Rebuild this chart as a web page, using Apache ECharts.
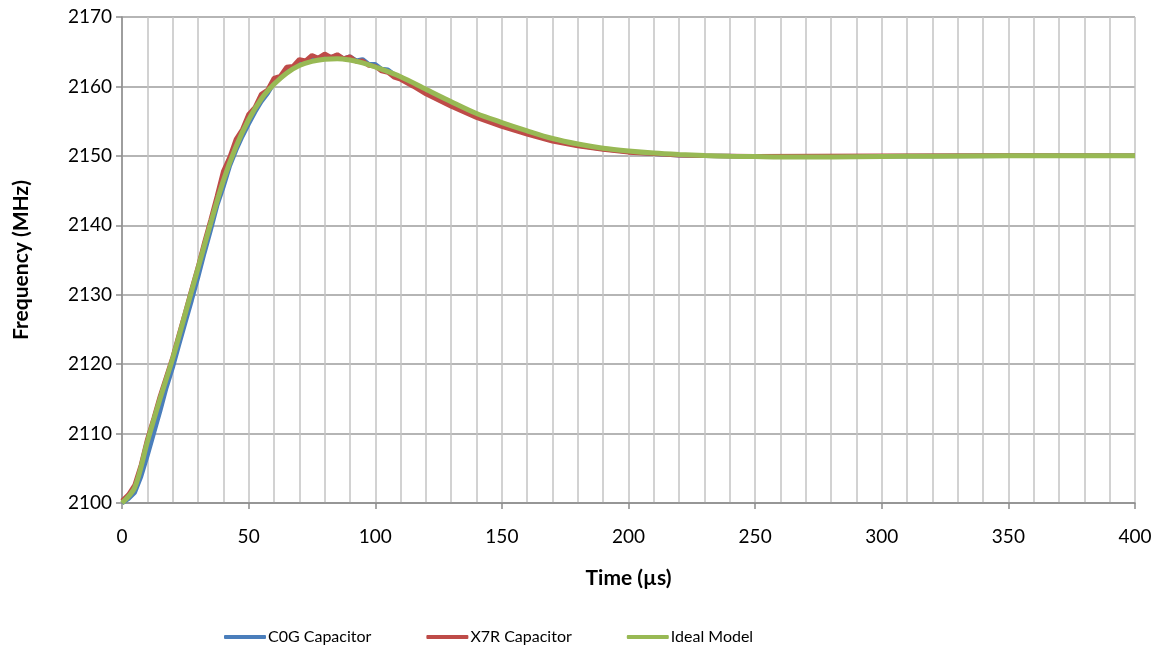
<!DOCTYPE html>
<html>
<head>
<meta charset="utf-8">
<script src="https://cdn.jsdelivr.net/npm/echarts@6/dist/echarts.min.js"></script>
<style>
html,body{margin:0;padding:0;background:#fff;}
#chart{width:1166px;height:664px;}
</style>
</head>
<body>
<div id="chart"></div>
<script>
const seriesNames = ['C0G Capacitor', 'X7R Capacitor', 'Ideal Model'];

const c0gTime = [0,2.5,5,7.5,10,12.5,15,17.5,20,22.5,25,27.5,30,32.5,35,37.5,40,42.5,45,47.5,50,52.5,55,57.5,60,62.5,65,67.5,70,72.5,75,77.5,80,82.5,85,87.5,90,92.5,95,97.5,100,102.5,105,107.5,110,115,120,130,140,150,160,170,180,190,200,210,220,230,250,300,350,400];
const c0gValues = [2100.0,2100.6,2101.5,2103.8,2106.8,2110.0,2113.2,2116.6,2119.5,2122.8,2126.0,2129.2,2132.5,2136.0,2139.3,2142.8,2145.5,2148.5,2150.8,2152.8,2154.6,2156.3,2157.8,2159.0,2160.5,2161.2,2162.3,2162.7,2163.5,2163.6,2164.2,2164.1,2164.5,2164.2,2164.5,2164.0,2164.3,2163.7,2163.9,2163.2,2163.2,2162.5,2162.4,2161.7,2161.3,2160.3,2159.2,2157.4,2155.8,2154.4,2153.3,2152.3,2151.5,2151.0,2150.6,2150.3,2150.1,2150.0,2149.9,2149.95,2150.0,2150.0];

const x7rTime = [0,2.5,5,7.5,10,12.5,15,17.5,20,22.5,25,27.5,30,32.5,35,37.5,40,42.5,45,47.5,50,52.5,55,57.5,60,62.5,65,67.5,70,72.5,75,77.5,80,82.5,85,87.5,90,92.5,95,97.5,100,102.5,105,107.5,110,115,120,130,140,150,160,170,180,190,200,210,220,230,250,300,350,400];
const x7rValues = [2100.3,2101.2,2102.6,2105.5,2109.2,2112.2,2115.4,2118.2,2121.0,2124.3,2127.5,2130.8,2134.0,2137.5,2140.8,2144.2,2147.8,2149.8,2152.4,2153.8,2156.0,2157.0,2158.9,2159.5,2161.2,2161.5,2162.8,2162.9,2163.9,2163.7,2164.5,2164.1,2164.7,2164.2,2164.6,2164.0,2164.3,2163.6,2163.7,2163.0,2162.9,2162.2,2162.0,2161.3,2161.0,2160.0,2158.9,2157.1,2155.5,2154.2,2153.1,2152.1,2151.4,2150.9,2150.5,2150.3,2150.1,2150.0,2149.95,2150.0,2150.05,2150.0];

const idealTime = [0,5,10,15,20,25,30,35,40,45,50,55,60,65,70,75,80,85,90,95,100,110,120,130,140,150,160,170,180,190,200,210,220,230,240,250,260,280,300,320,350,400];
const idealValues = [2100.0,2102.2,2108.8,2115.0,2120.8,2127.3,2133.8,2140.3,2146.4,2151.3,2155.2,2158.2,2160.3,2161.9,2163.0,2163.6,2163.9,2164.0,2163.8,2163.4,2162.8,2161.4,2159.6,2157.8,2156.1,2154.8,2153.6,2152.5,2151.7,2151.1,2150.7,2150.4,2150.2,2150.05,2149.95,2149.9,2149.85,2149.85,2149.9,2149.95,2150.0,2150.0];

const xTitle = 'Time (µs)';
const yTitle = 'Frequency (MHz)';

function pairs(ts, vs) { return ts.map((t, i) => [t, vs[i]]); }

const colors = ['#4A7EBB', '#BE4B48', '#98B954'];
const font = 'Lato, "Open Sans", sans-serif';

const chart = echarts.init(document.getElementById('chart'), null, {renderer: 'canvas'});
chart.setOption({
  animation: false,
  backgroundColor: '#ffffff',
  color: colors,
  textStyle: {fontFamily: font},
  grid: {left: 122, right: 31, top: 17, bottom: 161, containLabel: false},
  legend: {
    data: seriesNames,
    left: 219,
    top: 624,
    itemWidth: 42,
    itemHeight: 4,
    itemGap: 55,
    icon: 'roundRect',
    textStyle: {fontFamily: font, fontSize: 16, color: '#000', padding: [0, 0, 0, -3]}
  },
  xAxis: {
    type: 'value',
    min: 0, max: 400, interval: 50,
    name: xTitle,
    nameLocation: 'middle',
    nameGap: 65,
    nameTextStyle: {fontFamily: font, fontSize: 21, fontWeight: 'bold', color: '#000'},
    axisLine: {show: true, lineStyle: {color: '#8c8c8c', width: 1.5}},
    axisTick: {show: true, length: 6, lineStyle: {color: '#8c8c8c', width: 1.5}},
    axisLabel: {fontFamily: font, fontSize: 19, color: '#000', margin: 24},
    splitLine: {show: true, lineStyle: {color: '#c3c3c3', width: 1.5}},
    minorTick: {show: false, splitNumber: 5},
    minorSplitLine: {show: true, lineStyle: {color: '#c3c3c3', width: 1.5}}
  },
  yAxis: {
    type: 'value',
    min: 2100, max: 2170, interval: 10,
    name: yTitle,
    nameLocation: 'middle',
    nameGap: 90,
    nameRotate: 90,
    nameTextStyle: {fontFamily: font, fontSize: 21, fontWeight: 'bold', color: '#000'},
    axisLine: {show: true, lineStyle: {color: '#8c8c8c', width: 1.5}},
    axisTick: {show: true, length: 6, lineStyle: {color: '#8c8c8c', width: 1.5}},
    axisLabel: {fontFamily: font, fontSize: 19, color: '#000', margin: 10, formatter: (v) => String(v)},
    splitLine: {show: true, lineStyle: {color: '#9c9c9c', width: 1.5}}
  },
  series: [
    {name: seriesNames[0], type: 'line', data: pairs(c0gTime, c0gValues), symbol: 'none', lineStyle: {width: 4.5, color: colors[0]}, itemStyle: {color: colors[0]}, z: 2},
    {name: seriesNames[1], type: 'line', data: pairs(x7rTime, x7rValues), symbol: 'none', lineStyle: {width: 4.5, color: colors[1]}, itemStyle: {color: colors[1]}, z: 3},
    {name: seriesNames[2], type: 'line', data: pairs(idealTime, idealValues), symbol: 'none', smooth: 0.3, lineStyle: {width: 5, color: colors[2]}, itemStyle: {color: colors[2]}, z: 4}
  ]
});
</script>
</body>
</html>
